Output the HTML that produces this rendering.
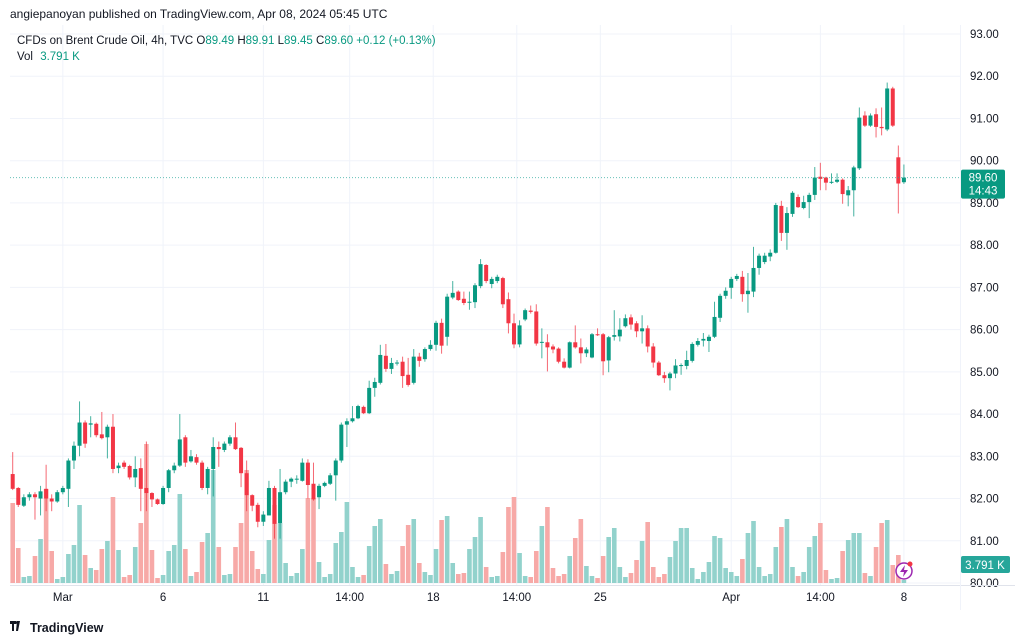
<!DOCTYPE html>
<html><head><meta charset="utf-8"><style>
html,body{margin:0;padding:0;background:#fff;}
svg{display:block;font-family:"Liberation Sans",sans-serif;}
</style></head><body>
<svg id="chart" width="1024" height="643" viewBox="0 0 1024 643">
<rect x="0" y="0" width="1024" height="643" fill="#fff"/>
<g id="grid"></g>
<g id="vol"></g>
<g id="candles"></g>
<g id="axes"></g>
<text x="10" y="18" font-size="12" fill="#131722">angiepanoyan published on TradingView.com, Apr 08, 2024 05:45 UTC</text>
<text x="17" y="44" font-size="11.5" fill="#131722">CFDs on Brent Crude Oil, 4h, TVC <tspan fill="#131722">O</tspan><tspan fill="#089981">89.49</tspan> <tspan fill="#131722">H</tspan><tspan fill="#089981">89.91</tspan> <tspan fill="#131722">L</tspan><tspan fill="#089981">89.45</tspan> <tspan fill="#131722">C</tspan><tspan fill="#089981">89.60 +0.12 (+0.13%)</tspan></text>
<text x="17" y="60" font-size="11.5" fill="#131722">Vol <tspan fill="#089981" dx="4">3.791 K</tspan></text>
<g>
<path d="M10 621h6v3h-2v7h-2v-7h-2z M17 621h3l-2 10h-2z" fill="#131722"/>
<circle cx="16.5" cy="622.5" r="1.3" fill="#131722"/>
<text x="30" y="632" font-size="12.5" font-weight="bold" fill="#131722">TradingView</text>
</g>
</svg>
<script>
const opens=[82.58,82.25,81.83,82.03,82.1,82.0,82.23,82.0,81.93,82.15,82.23,82.9,83.25,83.8,83.75,83.77,83.52,83.45,83.7,82.72,82.85,82.77,82.5,82.72,82.25,82.13,81.98,81.87,82.25,82.67,
82.78,83.45,82.88,82.98,82.85,82.25,82.7,83.22,83.15,83.3,83.45,83.2,82.6,82.08,81.85,81.45,81.6,82.25,81.42,82.15,82.4,82.45,82.42,82.85,82.35,82.03,82.3,82.35,82.55,82.9,
83.75,83.83,83.9,84.17,84.02,84.62,84.74,85.38,85.07,85.2,85.24,84.93,84.74,85.36,85.3,85.54,85.64,86.16,85.83,86.76,86.9,86.73,86.64,86.65,87.03,87.53,87.08,87.15,87.22,86.72,
86.15,85.65,86.24,86.45,86.43,85.69,85.7,85.6,85.55,85.24,85.1,85.7,85.58,85.44,85.34,85.89,85.89,85.27,85.83,85.84,86.08,86.29,86.15,85.96,86.03,85.6,85.22,84.92,84.85,84.96,
85.15,85.14,85.26,85.64,85.74,85.73,85.83,86.28,86.8,86.99,87.2,87.25,86.84,86.9,87.46,87.6,87.73,87.82,88.93,88.29,88.74,89.14,88.88,89.02,89.19,89.62,89.6,89.48,89.5,89.55,
89.18,89.3,89.82,91.07,90.83,91.1,90.8,90.74,91.71,90.08,89.49];
const highs=[83.1,82.27,82.1,82.15,82.15,82.3,82.8,82.1,82.2,82.3,82.95,83.35,84.3,83.85,83.95,83.8,84.05,83.75,84.0,82.85,82.9,82.8,83.0,82.95,83.35,82.15,82.0,82.3,82.7,82.85,
84.0,83.5,83.15,83.05,82.9,82.75,83.45,83.35,83.35,83.5,83.8,83.22,82.9,82.1,81.9,81.7,82.42,82.3,82.7,82.45,82.5,82.55,82.95,82.93,82.85,82.35,82.4,82.6,82.95,83.8,
83.9,84.19,84.22,84.2,84.79,84.86,85.64,85.66,85.33,85.28,85.36,85.33,85.54,85.45,85.58,85.75,86.21,86.26,86.85,87.15,86.93,86.9,86.9,87.1,87.67,87.55,87.25,87.3,87.25,86.88,
86.38,86.22,86.5,86.57,86.6,86.03,85.89,85.65,85.58,85.32,85.72,86.1,85.79,85.58,85.92,86.03,85.92,85.85,86.46,86.27,86.36,86.36,86.2,86.34,86.1,85.68,85.26,85.0,85.0,85.3,
85.2,85.5,85.7,85.8,85.92,85.88,86.66,86.85,87.0,87.25,87.32,87.39,87.34,87.96,87.8,87.82,87.9,89.0,89.05,88.9,89.28,89.2,89.17,89.24,89.85,89.95,89.62,89.7,89.7,89.58,
89.4,89.88,91.26,91.17,91.12,91.24,91.26,91.85,91.75,90.36,89.91];
const lows=[82.2,81.8,81.8,81.95,81.5,81.6,81.7,81.7,81.9,82.1,81.8,82.7,83.0,83.2,83.45,83.45,83.4,82.95,82.6,82.6,82.7,82.45,82.27,81.7,81.7,81.8,81.85,81.85,82.15,82.6,
82.75,82.75,82.85,82.8,82.2,82.1,82.05,82.75,83.1,83.25,83.15,82.27,81.7,81.7,81.32,81.35,81.6,81.05,81.05,82.1,82.27,82.35,82.4,82.0,81.95,81.75,82.27,82.32,81.95,82.85,
83.22,83.8,83.88,84.0,84.0,84.41,84.7,85.0,84.95,85.15,84.62,84.65,84.7,85.12,85.24,85.5,85.5,85.43,85.62,86.72,86.68,86.58,86.47,86.51,86.98,87.1,86.98,87.1,86.51,85.91,
85.56,85.58,86.2,86.38,85.62,85.32,85.01,85.44,85.2,85.08,85.08,85.55,85.2,85.35,85.32,85.85,84.92,84.99,85.74,85.72,86.05,86.0,85.82,85.67,85.46,85.1,84.9,84.74,84.56,84.85,
84.93,85.06,85.22,85.6,85.6,85.47,85.8,86.18,86.73,86.73,87.15,86.66,86.4,86.77,87.3,87.55,87.62,87.8,88.1,87.89,88.67,88.88,88.85,88.64,89.07,89.3,89.3,89.45,89.47,88.98,
88.92,88.68,89.78,90.8,90.8,90.55,90.6,90.7,90.8,88.75,89.45];
const closes=[82.23,81.85,82.03,82.1,82.03,82.17,82.0,81.93,82.15,82.25,82.9,83.25,83.8,83.3,83.78,83.5,83.43,83.7,82.7,82.78,82.75,82.5,82.7,82.23,82.13,81.98,81.87,82.25,82.67,82.78,
83.4,82.85,83.0,82.85,82.25,82.7,83.22,83.17,83.3,83.45,83.17,82.6,82.08,81.83,81.45,81.62,82.25,81.4,82.15,82.4,82.47,82.47,82.85,82.32,81.98,82.3,82.37,82.55,82.9,83.75,
83.83,83.9,84.19,84.02,84.62,84.76,85.4,85.07,85.21,85.22,84.9,84.69,85.36,85.26,85.54,85.64,86.16,85.62,86.78,86.87,86.7,86.63,86.66,87.05,87.55,87.15,87.2,87.25,86.6,86.15,
85.65,86.1,86.46,86.42,85.67,85.71,85.58,85.53,85.24,85.1,85.7,85.58,85.44,85.53,85.89,85.87,85.25,85.82,85.87,86.0,86.27,86.12,85.96,86.03,85.6,85.22,84.92,84.85,84.96,85.15,
85.16,85.28,85.66,85.73,85.78,85.83,86.3,86.8,86.92,87.2,87.27,86.84,86.92,87.46,87.75,87.75,87.82,88.95,88.29,88.76,89.24,88.9,89.02,89.19,89.6,89.57,89.48,89.5,89.55,89.21,
89.3,89.84,91.02,90.83,91.07,90.8,90.77,91.71,90.83,89.46,89.60];
const volumes=[80,35,6,7,27,44,94,32,4,6,29,38,78,28,15,13,34,42,86,33,6,8,36,60,139,33,5,8,32,38,
89,34,7,11,41,50,113,36,8,9,36,60,113,32,14,9,43,78,60,20,7,10,34,85,85,21,6,9,40,51,
81,16,6,8,37,57,64,19,9,12,37,58,64,20,11,8,34,63,67,20,9,10,34,46,66,16,6,7,31,76,
86,30,7,6,32,57,76,15,7,9,27,45,64,17,7,5,27,46,55,16,6,10,23,42,61,16,6,9,26,42,
55,55,15,4,11,21,47,45,15,11,7,24,50,62,16,7,9,36,56,64,16,7,11,36,47,60,13,4,5,32,
43,50,50,10,7,36,60,63,18,28,3];
const priceTicks=[93,92,91,90,89,88,87,86,85,84,83,82,81,80];
const timeLabels=["Mar","6","11","14:00","18","14:00","25","Apr","14:00","8"];
const timeLabelIndex=[9,27,45,60.5,75.5,90.5,105.5,129,145,160];
const lastPrice=89.60;

const NS="http://www.w3.org/2000/svg";
function xs(i){return 12.7+5.57*i;}
function ys(p){return 34+(93-p)*42.23;}
function vs(v){return 583-v;}
function mk(tag,attrs,parent){const e=document.createElementNS(NS,tag);for(const k in attrs)e.setAttribute(k,attrs[k]);parent.appendChild(e);return e;}
const grid=document.getElementById('grid'),vol=document.getElementById('vol'),cg=document.getElementById('candles'),ax=document.getElementById('axes');

priceTicks.forEach(p=>{
  const l=mk('line',{x1:10,x2:960,y1:ys(p),y2:ys(p),stroke:'#f0f3fa','stroke-width':1},grid);
  
  
  const t=mk('text',{x:970,y:ys(p)+4,'font-size':11.5,fill:'#131722'},ax);
  t.textContent=p.toFixed(2);
  
  
});
timeLabels.forEach((s,k)=>{
  const x=xs(timeLabelIndex[k]);
  const l=mk('line',{x1:x,x2:x,y1:25,y2:585,stroke:'#f0f3fa','stroke-width':1},grid);
  
  
  const t=mk('text',{x:x,y:601,'font-size':11.5,fill:'#131722','text-anchor':'middle'},ax);
  t.textContent=s;
  
  
});
const bl=mk('line',{x1:10,x2:1015,y1:585.5,y2:585.5,stroke:'#e0e3eb'},ax);


const vl=mk('line',{x1:960.5,x2:960.5,y1:25,y2:610,stroke:'#f0f3fa'},ax);



for(let i=0;i<closes.length;i++){
  const up=closes[i]>=opens[i];
  const x=xs(i);
  const vb=mk('rect',{x:x-2.3,y:vs(volumes[i]),width:4.6,height:volumes[i],fill:up?'#92d2cc':'#f7a9a7'},vol);
  
  
  const col=up?'#089981':'#f23645';
  const w=mk('line',{x1:x,x2:x,y1:ys(highs[i]),y2:ys(lows[i]),stroke:col,'stroke-width':1,opacity:0.75},cg);
  
  
  const top=ys(Math.max(opens[i],closes[i])),bot=ys(Math.min(opens[i],closes[i]));
  const b=mk('rect',{x:x-2,y:top,width:4,height:Math.max(1,bot-top),fill:col},cg);
  
  
}
const ly=ys(lastPrice);
const dl=mk('line',{x1:10,x2:960,y1:ly,y2:ly,stroke:'#26a69a','stroke-width':1,'stroke-dasharray':'1 2',opacity:0.7},ax);


const pb=mk('rect',{x:961,y:ly-8,width:44,height:29,rx:2,fill:'#089981'},ax);


const pt=mk('text',{x:983,y:ly+4,'font-size':11.5,fill:'#fff','text-anchor':'middle'},ax);
pt.textContent=lastPrice.toFixed(2);


const ct=mk('text',{x:983,y:ly+17,'font-size':11.5,fill:'#fff','text-anchor':'middle'},ax);
ct.textContent='14:43';


const vbx=mk('rect',{x:961,y:556,width:49,height:17,rx:2,fill:'#26a69a'},ax);


const vt=mk('text',{x:985,y:569,'font-size':11.5,fill:'#fff','text-anchor':'middle'},ax);
vt.textContent='3.791 K';


const ic=mk('circle',{cx:904,cy:571,r:8,fill:'#fff',stroke:'#9c27b0','stroke-width':1.5},ax);


const ip=mk('path',{d:'M905 565l-5 7h4l-1 5 5-7h-4z',fill:'#9c27b0'},ax);


const dot=mk('circle',{cx:910,cy:564,r:2.5,fill:'#f23645'},ax);


</script>
</body></html>
